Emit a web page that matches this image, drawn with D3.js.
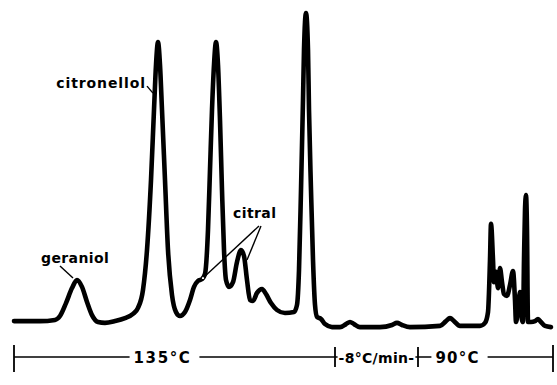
<!DOCTYPE html>
<html><head><meta charset="utf-8">
<script src="https://cdn.jsdelivr.net/npm/d3@7"></script>
<style>html,body{margin:0;padding:0;background:#fff;}svg{display:block;}</style>
</head><body>
<script>
// Chromatogram trace: retention time (arbitrary units) and detector response (% of full scale)
const retentionTime = [
  0, 2.6, 4.1, 4.6, 5.2, 5.8, 6.3, 6.8, 7.3, 7.8, 8.4, 9.1, 10.1, 11.1, 11.9, 12.4, 12.9, 13.3, 13.7, 14.0,
  14.2, 14.4, 14.6, 14.8, 15.1, 15.4, 15.8, 16.2, 16.6, 17.1, 17.6, 18.0, 18.4, 18.8, 19.1, 19.4, 19.6, 19.8,
  20.0, 20.2, 20.4, 20.6, 20.8, 21.0, 21.2, 21.5, 21.9, 22.3, 22.7, 23.0, 23.3, 23.6, 23.9, 24.3, 24.8, 25.2,
  25.7, 26.3, 27.1, 28.0, 28.3, 28.5, 28.7, 28.9, 29.0, 29.2, 29.4, 29.5, 29.7, 29.9, 30.1, 30.3, 30.7, 31.1,
  31.8, 32.6, 33.2, 33.6, 34.0, 34.6, 36.6, 37.8, 38.3, 38.8, 39.6, 42.6, 43.2, 43.6, 44.0, 44.6, 46.6, 47.1,
  47.4, 47.6, 47.7, 47.9, 48.0, 48.2, 48.4, 48.6, 48.8, 49.0, 49.3, 49.6, 49.9, 50.1, 50.2, 50.4, 50.6, 50.8,
  50.9, 51.0, 51.1, 51.2, 51.3, 51.4, 51.7, 52.1, 52.4, 52.7, 53.1, 53.7
];
const detectorSignal = [
  0.3, 0.3, 0.7, 2.0, 6.3, 11.3, 14.0, 11.7, 6.7, 2.3, 0.0, -0.3, 0.3, 1.3, 2.7, 4.7, 10.7, 24.0, 47.3, 70.7,
  85.7, 93.3, 85.7, 70.7, 47.3, 24.0, 9.0, 3.3, 2.0, 3.3, 7.3, 11.7, 13.7, 14.3, 16.0, 30.7, 50.7, 70.7,
  85.7, 93.3, 85.7, 67.3, 44.0, 24.0, 14.0, 11.7, 13.3, 20.0, 24.0, 22.0, 14.0, 7.3, 7.0, 9.7, 11.0, 9.3,
  6.3, 4.0, 3.0, 3.3, 5.7, 17.3, 44.0, 74.0, 90.7, 103.0, 90.7, 70.7, 44.0, 20.7, 5.7, 1.7, 1.0, -0.7,
  -1.7, -1.7, -0.7, 0.0, -0.7, -1.7, -1.7, -1.0, -0.3, -1.0, -1.7, -1.3, 0.3, 1.3, 0.3, -1.3, -1.3, -0.3,
  3.3, 20.7, 32.7, 20.7, 13.3, 16.7, 11.3, 18.0, 13.3, 9.3, 8.7, 12.3, 17.0, 7.3, 0.0, 4.0, 10.0, 0.7,
  0.0, 20.7, 37.3, 42.3, 30.7, 0.0, 0.0, 0.3, 1.0, 0.0, -1.3, -1.7
];

// Identified peaks
const peakNames = ["geraniol", "citronellol", "citral"];
const peakTimes = [6.3, 14.4, 22.7];
const peakHeights = [14.0, 93.3, 24.0];
const citralShoulderTime = 18.8;
const citralShoulderHeight = 14.3;

// Temperature programme along the time axis
const programLabels = ["135°C", "-8°C/min-", "90°C"];
const programBreaks = [0, 32.1, 40.4, 53.9];

const W = 557, H = 385;
const x = d3.scaleLinear().domain([0, 53.9]).range([14, 553]);
const y = d3.scaleLinear().domain([0, 100]).range([322, 22]);

const svg = d3.select("body").append("svg").attr("width", W).attr("height", H);

const trace = retentionTime.map((t, i) => [t, detectorSignal[i]]);
const line = d3.line().x(d => x(d[0])).y(d => y(d[1])).curve(d3.curveMonotoneX);

svg.append("path")
  .datum(trace)
  .attr("d", line)
  .attr("fill", "none")
  .attr("stroke", "#000")
  .attr("stroke-width", 4.6)
  .attr("stroke-linejoin", "round")
  .attr("stroke-linecap", "round");

const labelFont = "'DejaVu Sans', sans-serif";
const lbl = svg.append("g")
  .attr("font-family", labelFont)
  .attr("font-weight", "bold")
  .attr("font-size", 14)
  .attr("letter-spacing", 0.4)
  .attr("fill", "#000");
const leaders = svg.append("g").attr("stroke", "#000").attr("stroke-width", 1.4).attr("fill", "none");

// geraniol
{
  const px = x(peakTimes[0]), py = y(peakHeights[0]);
  lbl.append("text").attr("x", px - 36).attr("y", py - 17).text(peakNames[0]);
  leaders.append("line").attr("x1", px - 17).attr("y1", py - 14).attr("x2", px - 4).attr("y2", py - 2);
}
// citronellol
{
  const px = x(peakTimes[1]), py = y(peakHeights[1]);
  lbl.append("text").attr("x", px - 12).attr("y", py + 46).attr("text-anchor", "end")
    .attr("letter-spacing", 0.9).text(peakNames[1]);
  leaders.append("line").attr("x1", px - 11).attr("y1", py + 44).attr("x2", px - 5).attr("y2", py + 51);
}
// citral (two isomers)
{
  const px = x(peakTimes[2]), py = y(peakHeights[2]);
  const sx = x(citralShoulderTime), sy = y(citralShoulderHeight);
  lbl.append("text").attr("x", px - 8).attr("y", py - 32).text(peakNames[2]);
  const ax = px + 18, ay = py - 24;
  leaders.append("line").attr("x1", ax).attr("y1", ay).attr("x2", sx + 1).attr("y2", sy - 1);
  leaders.append("line").attr("x1", ax + 2).attr("y1", ay).attr("x2", px + 6).attr("y2", py + 10);
  svg.append("circle").attr("cx", sx + 1).attr("cy", sy - 1).attr("r", 1.6)
    .attr("fill", "#fff").attr("stroke", "#000").attr("stroke-width", 1);
}

// Temperature programme bar
const barY = 357;
const bar = svg.append("g");
bar.append("line").attr("x1", x(programBreaks[0])).attr("x2", x(programBreaks[3]))
  .attr("y1", barY).attr("y2", barY).attr("stroke", "#000").attr("stroke-width", 1.6);
programBreaks.forEach((t, i) => {
  const end = (i === 0 || i === programBreaks.length - 1);
  bar.append("line").attr("x1", x(t)).attr("x2", x(t))
    .attr("y1", barY - (end ? 12 : 10)).attr("y2", barY + (end ? 15 : 10))
    .attr("stroke", "#000").attr("stroke-width", 1.8);
});
const sizes = [15, 14, 15];
const spacing = [1.6, 0.3, 1.2];
const offsets = [-12, 0, -28];
programLabels.forEach((s, i) => {
  const cx = (x(programBreaks[i]) + x(programBreaks[i + 1])) / 2 + offsets[i];
  const t = bar.append("text")
    .attr("x", cx).attr("y", barY + 5.5)
    .attr("text-anchor", "middle")
    .attr("font-family", labelFont).attr("font-weight", "bold")
    .attr("font-size", sizes[i]).attr("letter-spacing", spacing[i])
    .text(s);
  const bb = t.node().getBBox();
  const padL = i === 1 ? 1 : 4, padR = i === 1 ? 1 : 8;
  bar.insert("rect", "text")
    .attr("x", bb.x - padL).attr("y", barY - 2).attr("width", bb.width + padL + padR).attr("height", 4)
    .attr("fill", "#fff");
});
</script>
</body></html>
